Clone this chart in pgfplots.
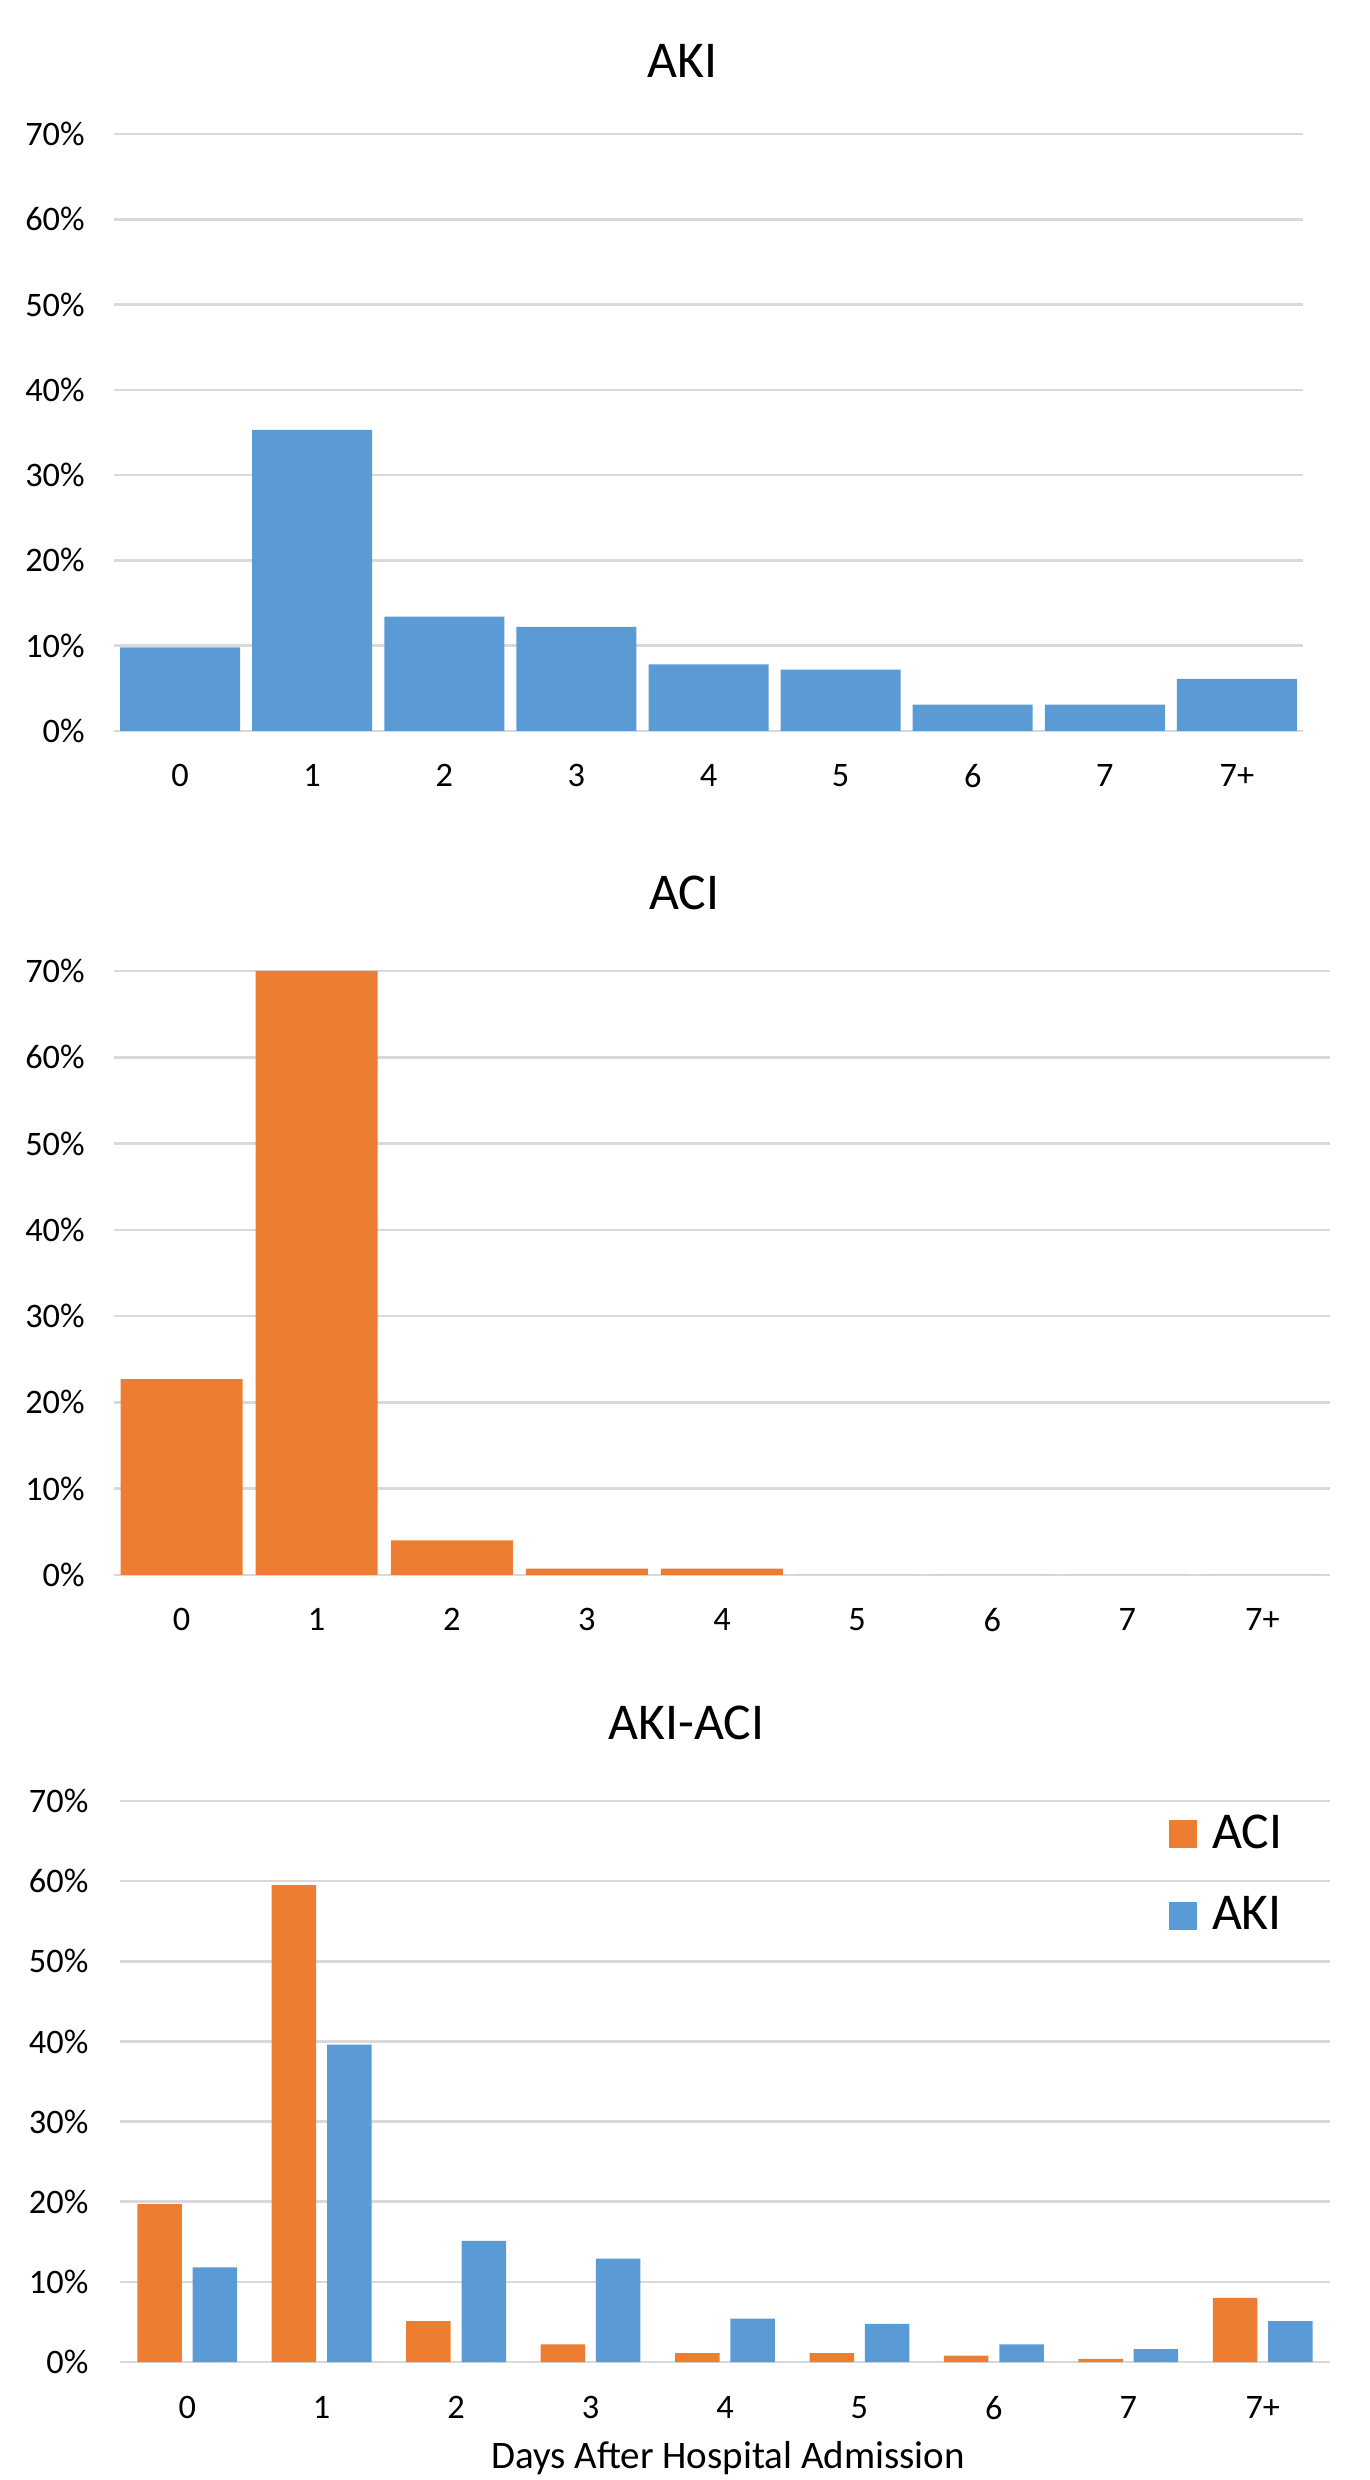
\documentclass[border=0pt]{standalone}
\usepackage{fontspec}
\setmainfont{Carlito}
\usepackage{pgfplots}
\pgfplotsset{compat=1.18}

\definecolor{xlblue}{HTML}{5B9BD5}
\definecolor{xlorange}{HTML}{ED7D31}
\definecolor{gridgray}{HTML}{D9D9D9}

\pgfplotsset{
  every axis title shift=0pt,
  panel/.style={
    scale only axis,
    anchor=south west,
    ybar,
    xmin=-0.5, xmax=8.5,
    ymin=0, ymax=70,
    xtick={0,...,8},
    xticklabels={0,1,2,3,4,5,6,7,7+},
    ytick={0,10,...,70},
    yticklabels={0\%,10\%,20\%,30\%,40\%,50\%,60\%,70\%},
    axis line style={draw=none},
    major tick length=0pt,
    ymajorgrids,
    grid style={color=gridgray, line width=0.8pt},
    tick label style={font=\fontsize{10.3}{12}\selectfont, inner sep=0pt},
    xticklabel style={anchor=north, yshift=-9.9pt},
    yticklabel style={anchor=east, xshift=-8.6pt},
    title style={font=\fontsize{15.5}{18}\selectfont, anchor=base},
  },
}

\begin{document}
\begin{tikzpicture}
\path[use as bounding box] (0pt,0pt) rectangle (410.7pt,744pt);

% AKI
\begin{axis}[panel,
  at={(34.2pt,524.7pt)}, width=356.7pt, height=179.1pt,
  bar width=36pt,
  title={AKI}, title style={at={(0.478,1.094)}}]
\addplot[fill=xlblue, draw=none] coordinates {
  (0,9.8) (1,35.3) (2,13.4) (3,12.2) (4,7.8) (5,7.2) (6,3.1) (7,3.1) (8,6.1)};
\end{axis}

% ACI
\begin{axis}[panel,
  at={(34.2pt,271.5pt)}, width=364.8pt, height=181.2pt,
  bar width=36.6pt,
  title={ACI}, title style={at={(0.469,1.1026)}}]
\addplot[fill=xlorange, draw=none] coordinates {
  (0,22.7) (1,70.0) (2,4.0) (3,0.74) (4,0.74) (5,0) (6,0) (7,0) (8,0)};
\end{axis}

% AKI-ACI
\begin{axis}[panel,
  at={(36pt,35.4pt)}, width=363pt, height=168.3pt,
  bar width=13.35pt,
  yticklabel style={xshift=-0.7pt},
  xticklabel style={yshift=-0.3pt},
  title={AKI-ACI}, title style={at={(0.468,1.109)}},
  xlabel={Days After Hospital Admission},
  xlabel style={at={(0.5025,-0.1907)}, anchor=base, font=\fontsize{11.7}{14}\selectfont},
  legend style={draw=none, fill=none, at={(0.961,0.977)}, anchor=north east,
    font=\fontsize{15.5}{18}\selectfont, inner sep=0pt, row sep=13pt, column sep=4.5pt,
    nodes={inner sep=0pt}},
  legend cell align=left,
  legend image code/.code={\fill[#1] (0pt,-4.2pt) rectangle (8.4pt,4.2pt);}]
\addplot[fill=xlorange, draw=none, bar shift=-8.3pt] coordinates {
  (0,19.7) (1,59.5) (2,5.1) (3,2.2) (4,1.1) (5,1.1) (6,0.8) (7,0.4) (8,8.0)};
\addplot[fill=xlblue, draw=none, bar shift=8.3pt] coordinates {
  (0,11.8) (1,39.6) (2,15.1) (3,12.9) (4,5.4) (5,4.75) (6,2.2) (7,1.6) (8,5.1)};
\legend{ACI,AKI}
\end{axis}
\end{tikzpicture}
\end{document}
